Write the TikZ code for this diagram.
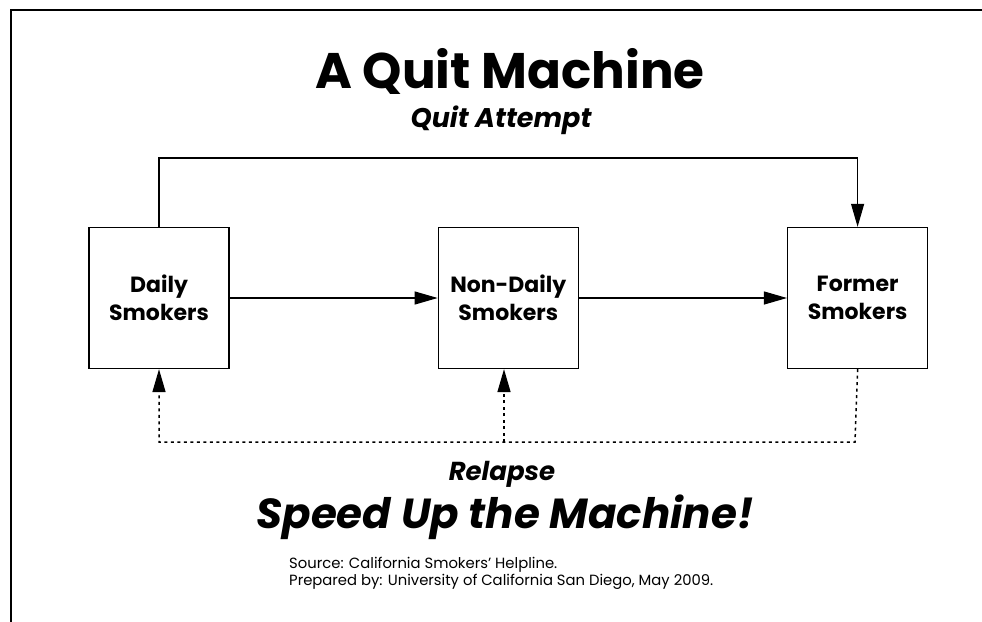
\documentclass[tikz,border=0pt]{standalone}
\usepackage{fontspec}
\setmainfont{Poppins}
\usetikzlibrary{arrows.meta,positioning}

\tikzset{
  stage/.style={draw,line width=1.3pt,minimum width=140pt,minimum height=141pt,
    align=center,inner sep=0pt,font=\fontsize{22}{28}\selectfont\bfseries},
  flow/.style={line width=1.1pt,-{Triangle[length=23pt,width=13pt]}},
  relapse/.style={flow,dash pattern=on 3pt off 3.5pt,line width=1.5pt},
  label/.style={anchor=base,inner sep=0pt}
}

\begin{document}
\begin{tikzpicture}[x=1pt,y=-1pt]
		\useasboundingbox (0,0) rectangle (982,621);
		% draw frame
		\draw[line width=1.3pt] (11,640) -- (11,10) -- (1000,10);
		
		% titles
		\node[label,font=\fontsize{50}{60}\selectfont\bfseries] (title) at (510,88) {A Quit Machine};
		\node[label,font=\fontsize{27}{32}\selectfont\bfseries\itshape] (quit) at (501,127) {Quit Attempt};
		
		% draw the three stages
		\node[stage] (daily) at (159,298) {Daily\\Smokers};
		\node[stage,right=208pt of daily] (nondaily) {Non-Daily\\Smokers};
		\node[stage,right=208pt of nondaily] (former) {Former\\Smokers};
		
		% forward arrows
		\draw[flow] (daily) -- (nondaily);
		\draw[flow] (nondaily) -- (former);
		\coordinate (qa) at (159,158);
		\draw[flow] (daily.north) -- (qa) -| (former.north);
		
		% relapse arrows
		\coordinate (ra) at (855,442);
		\coordinate (rb) at (504,442);
		\draw[relapse] (former.south) -- (ra) -| (daily.south);
		\draw[relapse] (rb) -- (rb |- nondaily.south);
		
		\node[label,font=\fontsize{26}{30}\selectfont\bfseries\itshape] (back) at (502,480) {Relapse};
		\node[label,font=\fontsize{42}{50}\selectfont\bfseries\itshape] (speed) at (505,528) {Speed Up the Machine!};
		\node[label,anchor=base west,align=left,font=\fontsize{14.8}{17}\selectfont] (src) at (289,585) {Source: California Smokers’ Helpline.\\Prepared by: University of California San Diego, May 2009.};
\end{tikzpicture}
\end{document}
